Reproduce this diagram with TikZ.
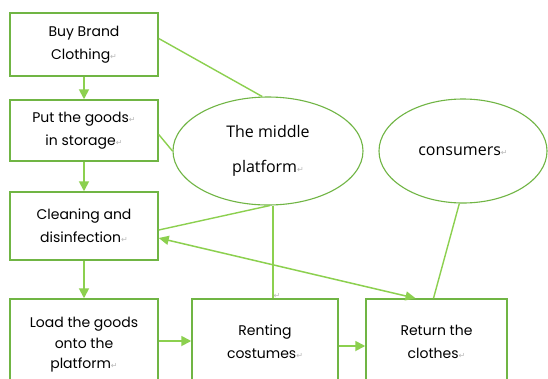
\documentclass[tikz,border=0pt]{standalone}
\usepackage{fontspec}
\setmainfont{Poppins}
\newfontfamily\ellfont{Open Sans}
\newfontfamily\dejavu{DejaVu Sans}
\usetikzlibrary{shapes.geometric,arrows.meta}
\definecolor{boxgreen}{HTML}{70B544}
\definecolor{arrgreen}{HTML}{8CD04F}
\newcommand\parmk{{\dejavu\fontsize{8}{8}\selectfont\textcolor{gray!55}{↵}}}
\tikzset{
  stepbox/.style={draw=boxgreen,line width=1.5pt,rectangle,align=center,inner sep=0pt,
    font=\fontsize{14}{23}\selectfont},
  oval/.style={draw=boxgreen,line width=1.1pt,ellipse,align=center,inner sep=0pt,
    font=\ellfont\fontsize{16}{35}\selectfont},
  flow/.style={draw=arrgreen,line width=1.8pt,-{Triangle[width=10pt,length=10pt]}},
  link/.style={draw=arrgreen,line width=1.4pt},
  both/.style={draw=arrgreen,line width=1.5pt,{Triangle[width=9pt,length=10pt]}-{Triangle[width=9pt,length=10pt]}}
}
\begin{document}
\begin{tikzpicture}[x=1pt,y=-1pt]
\clip (0,0) rectangle (548,378);
\fill[white] (0,0) rectangle (548,378);
\node[stepbox,minimum width=148pt,minimum height=63pt] (buy) at (84,44.5) {Buy Brand\\Clothing\parmk};
\node[stepbox,minimum width=148pt,minimum height=61pt] (store) at (84,130.5) {Put the goods\parmk\\in storage\parmk};
\node[stepbox,minimum width=148pt,minimum height=68pt] (clean) at (84,226) {Cleaning and\\disinfection\parmk};
\node[stepbox,minimum width=148pt,minimum height=92pt,font=\fontsize{14}{20.5}\selectfont] (load) at (84,345) {Load the goods\\onto the\\platform\parmk};
\node[stepbox,minimum width=146pt,minimum height=86pt] (rent) at (265,342) {Renting\\costumes\parmk};
\node[stepbox,minimum width=141pt,minimum height=86pt] (ret) at (436.5,342) {Return the\\clothes\parmk};
\node[oval,minimum width=190pt,minimum height=108pt] (mid) at (268,151) {The middle\\platform\parmk};
\node[oval,minimum width=168pt,minimum height=104pt] (cons) at (463,151) {consumers\parmk};
\draw[flow] (buy) -- (store);
\draw[flow] (store) -- (clean);
\draw[flow] (clean) -- (load);
\draw[flow] ([yshift=4pt]load.east) -- ([yshift=4pt]load.east -| rent.west);
\draw[flow] ([yshift=-4pt]rent.east) -- ([yshift=-4pt]rent.east -| ret.west);
\draw[link] ([yshift=6pt]buy.east) -- (mid.96);
\draw[link] ([yshift=-4pt]store.east) -- (mid.west);
\draw[link] ([yshift=-4pt]clean.east) -- (mid.272);
\coordinate (vtop) at ([xshift=5pt]mid.south);
\draw[link] (vtop) -- (vtop |- rent.north);
\draw[both] ([yshift=-12pt]clean.east) -- ([xshift=-21pt]ret.north);
\draw[link] (cons.266) -- ([xshift=-3pt]ret.north);
\node[anchor=south,inner sep=0pt] (mk) at ([xshift=4pt]vtop |- rent.north) {\parmk};
\end{tikzpicture}
\end{document}
